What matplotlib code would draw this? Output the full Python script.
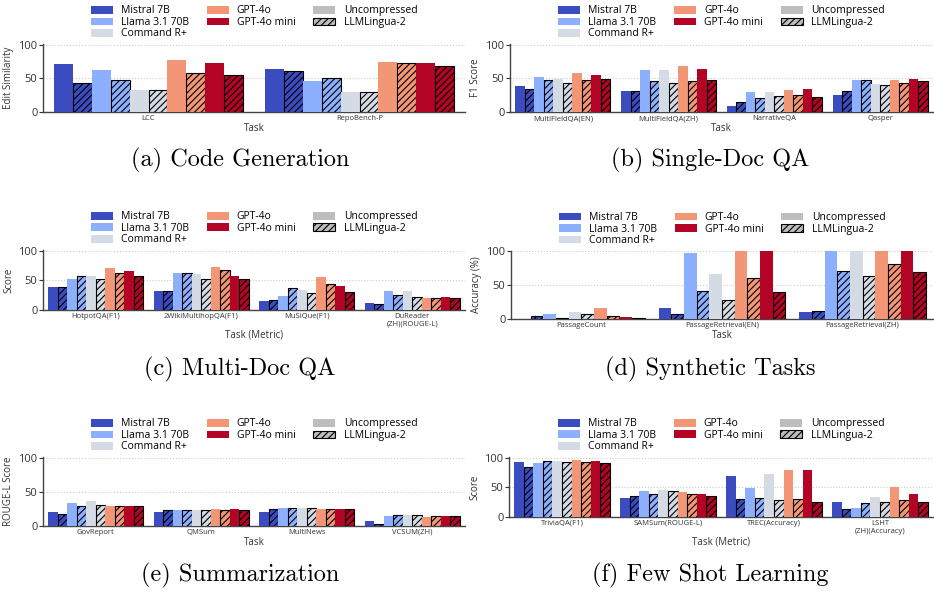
import numpy as np
import matplotlib
matplotlib.use("Agg")
import matplotlib.pyplot as plt
from matplotlib.patches import Patch

plt.rcParams['font.family'] = ['Open Sans', 'DejaVu Sans']
plt.rcParams['hatch.linewidth'] = 0.8

models = ['Mistral 7B', 'Llama 3.1 70B', 'Command R+', 'GPT-4o', 'GPT-4o mini']
colors = ['#3b4cc0', '#8db0fe', '#d5dbe5', '#f29675', '#b40426']

# (a) Code Generation  -- per task: [model][uncompressed, llmlingua-2]
code_tasks = ['LCC', 'RepoBench-P']
code_unc = [[71, 62, 33, 77, 72.5], [64, 46, 30, 74, 72.5]]
code_llm = [[43, 48, 33, 58, 55], [61, 50.5, 30, 73.5, 69]]

# (b) Single-Doc QA
sdqa_tasks = ['MultiFieldQA(EN)', 'MultiFieldQA(ZH)', 'NarrativeQA', 'Qasper']
sdqa_unc = [[38.7, 52, 49.5, 58, 55], [31, 62, 62, 68, 64],
            [9, 30, 30, 33, 34], [25.5, 47.5, 41.7, 47.5, 49]]
sdqa_llm = [[35, 47.5, 43.6, 48, 49], [32, 45.6, 44, 47, 47.5],
            [15, 21, 24, 25, 22.5], [31, 47.5, 40, 43, 46]]

# (c) Multi-Doc QA
mdqa_tasks = ['HotpotQA(F1)', '2WikiMultihopQA(F1)', 'MuSiQue(F1)', 'DuReader\n(ZH)(ROUGE-L)']
mdqa_unc = [[38, 53, 57, 70, 65], [32, 62, 60, 72, 57],
            [15, 23, 33, 55, 40], [12, 32, 32, 20, 22]]
mdqa_llm = [[38, 57, 52, 62, 57], [32, 63, 53, 68, 53],
            [17, 37, 28, 44, 31], [10, 24.5, 22, 20, 20]]

# (d) Synthetic Tasks
syn_tasks = ['PassageCount', 'PassageRetrieval(EN)', 'PassageRetrieval(ZH)']
syn_unc = [[0.5, 7.5, 10, 16.5, 3], [16.5, 98, 67, 100, 100], [10, 100, 100, 100, 100]]
syn_llm = [[4.5, 2, 7, 4.5, 1.5], [7.5, 41, 28, 60, 40], [12, 71, 64, 81, 70]]

# (e) Summarization
sum_tasks = ['GovReport', 'QMSum', 'MultiNews', 'VCSUM(ZH)']
sum_unc = [[20, 33, 36, 30, 30], [20, 23, 23, 24.5, 24.5],
           [20, 26, 26, 24.5, 24.5], [7, 14, 15.5, 13, 14]]
sum_llm = [[17, 29, 31, 29, 29], [23, 23, 23, 23, 23],
           [24.5, 27, 26, 24.5, 24.5], [2.5, 15.5, 15.5, 14, 14]]

# (f) Few Shot Learning
fs_tasks = ['TriviaQA(F1)', 'SAMSum(ROUGE-L)', 'TREC(Accuracy)', 'LSHT\n(ZH)(Accuracy)']
fs_unc = [[92, 90.5, 94, 95.5, 94], [31.5, 43, 45, 41.5, 38],
          [68.5, 48, 72, 78.5, 78.5], [25, 14.6, 33, 50, 38]]
fs_llm = [[84, 94, 92, 92, 90.5], [35, 38, 43, 38, 35],
          [30, 31.5, 29, 30, 26], [13, 23, 25, 28, 25]]

W, H = 934, 593
fig = plt.figure(figsize=(W / 100, H / 100), dpi=100)


def add_ax(left, right, top, bottom):
    return fig.add_axes([left / W, 1 - bottom / H, (right - left) / W, (bottom - top) / H])


def panel(box, tasks, unc, llm, ylabel, xlabel, caption, cap_x, cap_y):
    ax = add_ax(*box)
    n = len(tasks)
    bw = 0.9 / 10
    x = np.arange(n)
    for m in range(len(models)):
        u = [unc[t][m] for t in range(n)]
        l = [llm[t][m] for t in range(n)]
        off = -0.45 + bw * (2 * m) + bw / 2
        ax.bar(x + off, u, width=bw, color=colors[m], edgecolor='none', zorder=3)
        ax.bar(x + off + bw, l, width=bw, color=colors[m], edgecolor='black',
               linewidth=0.8, hatch='/////', zorder=3)
    ax.set_xlim(-0.5, n - 0.5)
    ax.set_ylim(0, 101)
    ax.set_yticks([0, 50, 100])
    ax.set_xticks(x)
    ax.set_xticklabels(tasks, fontsize=5.5)
    ax.tick_params(axis='y', labelsize=8, length=3, width=0.8, pad=1, colors='#333333')
    ax.tick_params(axis='x', length=0, pad=2, colors='#333333')
    ax.yaxis.grid(True, linestyle=':', color='#cccccc', linewidth=0.8, zorder=0)
    for s in ['top', 'right']:
        ax.spines[s].set_visible(False)
    for s in ['left', 'bottom']:
        ax.spines[s].set_color('#444444')
        ax.spines[s].set_linewidth(1.0)
    ax.set_ylabel(ylabel, fontsize=7, labelpad=3, color='#333333')
    ax.set_xlabel(xlabel, fontsize=7, labelpad=1, color='#333333')

    handles = [Patch(facecolor=colors[i], edgecolor='none', label=models[i]) for i in range(5)]
    handles.append(Patch(facecolor='#bdbdbd', edgecolor='none', label='Uncompressed'))
    handles.append(Patch(facecolor='#bdbdbd', edgecolor='black', linewidth=0.8,
                         hatch='/////', label='LLMLingua-2'))
    ax.legend(handles=handles, ncol=3, loc='lower center', bbox_to_anchor=(0.5, 0.99),
              frameon=False, fontsize=7.5, handlelength=2.1, handleheight=0.75,
              labelspacing=0.05, columnspacing=1.7, handletextpad=0.8, borderpad=0)

    fig.text(cap_x / W, 1 - cap_y / H, caption, ha='center', va='center',
             fontsize=17.5, family='cmr10')
    return ax


panel((43, 465, 44, 112.3), code_tasks, code_unc, code_llm, 'Edit Similarity', 'Task',
      '(a) Code Generation', 240, 160)
panel((510, 933, 44, 112.3), sdqa_tasks, sdqa_unc, sdqa_llm, 'F1 Score', 'Task',
      '(b) Single-Doc QA', 710, 160)
panel((43, 465, 250, 310), mdqa_tasks, mdqa_unc, mdqa_llm, 'Score', 'Task (Metric)',
      '(c) Multi-Doc QA', 240, 369)
panel((511, 933, 250.7, 319), syn_tasks, syn_unc, syn_llm, 'Accuracy (%)', 'Task',
      '(d) Synthetic Tasks', 710, 369)
panel((43, 465, 457, 526), sum_tasks, sum_unc, sum_llm, 'ROUGE-L Score', 'Task',
      '(e) Summarization', 240, 575)
panel((509, 933, 457, 517), fs_tasks, fs_unc, fs_llm, 'Score', 'Task (Metric)',
      '(f) Few Shot Learning', 710, 575)

fig.savefig('out.png', dpi=100)
